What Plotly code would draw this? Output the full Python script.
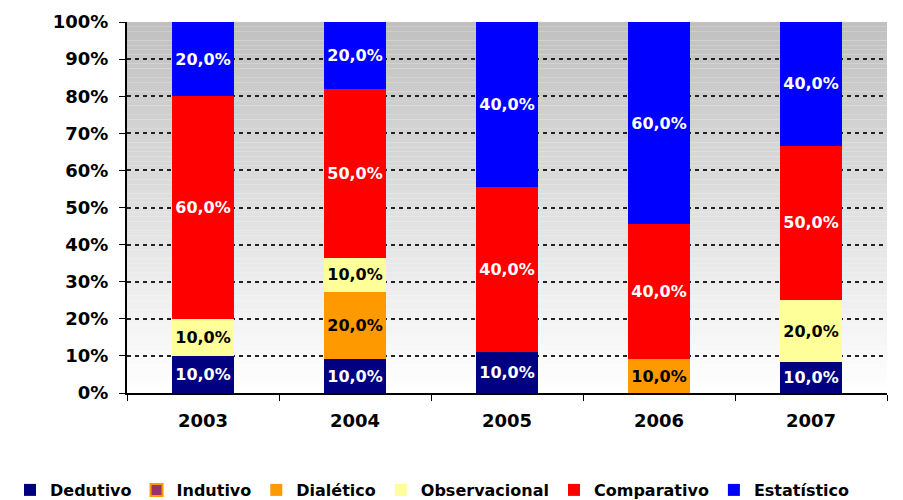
import plotly.graph_objects as go

years = ["2003", "2004", "2005", "2006", "2007"]
dedutivo = [10, 10, 10, None, 10]
indutivo = [None, None, None, None, None]
dialetico = [None, 20, None, 10, None]
observacional = [10, 10, None, None, 20]
comparativo = [60, 50, 40, 40, 50]
estatistico = [20, 20, 40, 60, 40]
y_ticks = [0, 10, 20, 30, 40, 50, 60, 70, 80, 90, 100]
y_ticktext = [f"{v}%" for v in y_ticks]

series = [
    ("Dedutivo", dedutivo, "#000080", "white"),
    ("Indutivo", indutivo, "#993366", "white"),
    ("Dialético", dialetico, "#FF9900", "black"),
    ("Observacional", observacional, "#FFFF99", "black"),
    ("Comparativo", comparativo, "#FF0000", "white"),
    ("Estatístico", estatistico, "#0000FF", "white"),
]

def fmt(v):
    return "" if v is None else f"{v:.1f}".replace(".", ",") + "%"

fig = go.Figure()
for name, vals, color, tcol in series:
    marker = dict(color=color, line=dict(width=0))
    if name == "Indutivo":
        marker = dict(color=color, line=dict(color="#FF9900", width=2))
    fig.add_trace(go.Bar(
        x=years, y=vals, name=name,
        marker=marker,
        text=[fmt(v) for v in vals],
        textposition="inside", insidetextanchor="middle", textangle=0,
        textfont=dict(family="DejaVu Sans", size=16, color=tcol, weight="bold"),
        hoverinfo="skip",
    ))

# gradient background (gray at top to white at bottom)
n = 80
shapes = []
for i in range(n):
    f0 = i / n
    f1 = (i + 1) / n
    t = (i + 0.5) / n  # 0 bottom -> 1 top
    g = round(255 - (255 - 192) * t)
    shapes.append(dict(type="rect", xref="paper", yref="paper", x0=0, x1=1,
                       y0=f0, y1=f1, fillcolor=f"rgb({g},{g},{g})",
                       line=dict(width=0), layer="below"))

# the page body adds an 8px offset, so the figure is sized 8px smaller
W, H = 895, 492
ml, mr, mt, mb = 119, 16, 14, 107
pw = W - ml - mr
ph = H - mt - mb

fig.update_layout(
    width=W, height=H,
    margin=dict(l=ml, r=mr, t=mt, b=mb, autoexpand=False),
    barmode="stack", barnorm="percent", bargap=0.59,
    paper_bgcolor="white", plot_bgcolor="rgba(0,0,0,0)",
    shapes=shapes,
    font=dict(family="DejaVu Sans", color="black"),
    showlegend=True,
    legend=dict(orientation="h", xref="paper", yref="paper",
                x=-(ml - 2) / pw, xanchor="left", y=-(482 - (mt + ph)) / ph, yanchor="middle",
                font=dict(family="DejaVu Sans", size=16, weight="bold"),
                itemclick=False, traceorder="normal", itemwidth=30, tracegroupgap=0),
    xaxis=dict(showline=True, linecolor="black", linewidth=2, ticks="outside",
               tickson="boundaries", ticklen=6, tickcolor="black", tickwidth=1,
               tickfont=dict(family="DejaVu Sans", size=18, weight="bold"),
               ticklabelstandoff=10, showgrid=False),
    yaxis=dict(range=[0, 100], tickmode="array", tickvals=y_ticks, ticktext=y_ticktext,
               showline=True, linecolor="black", linewidth=2, ticks="outside",
               ticklen=6, tickcolor="black", tickwidth=1,
               tickfont=dict(family="DejaVu Sans", size=18, weight="bold"),
               ticklabelstandoff=7,
               showgrid=True, gridcolor="#222222", gridwidth=1.5, griddash="4px,4px",
               zeroline=False),
)

fig.write_html("out.html")
